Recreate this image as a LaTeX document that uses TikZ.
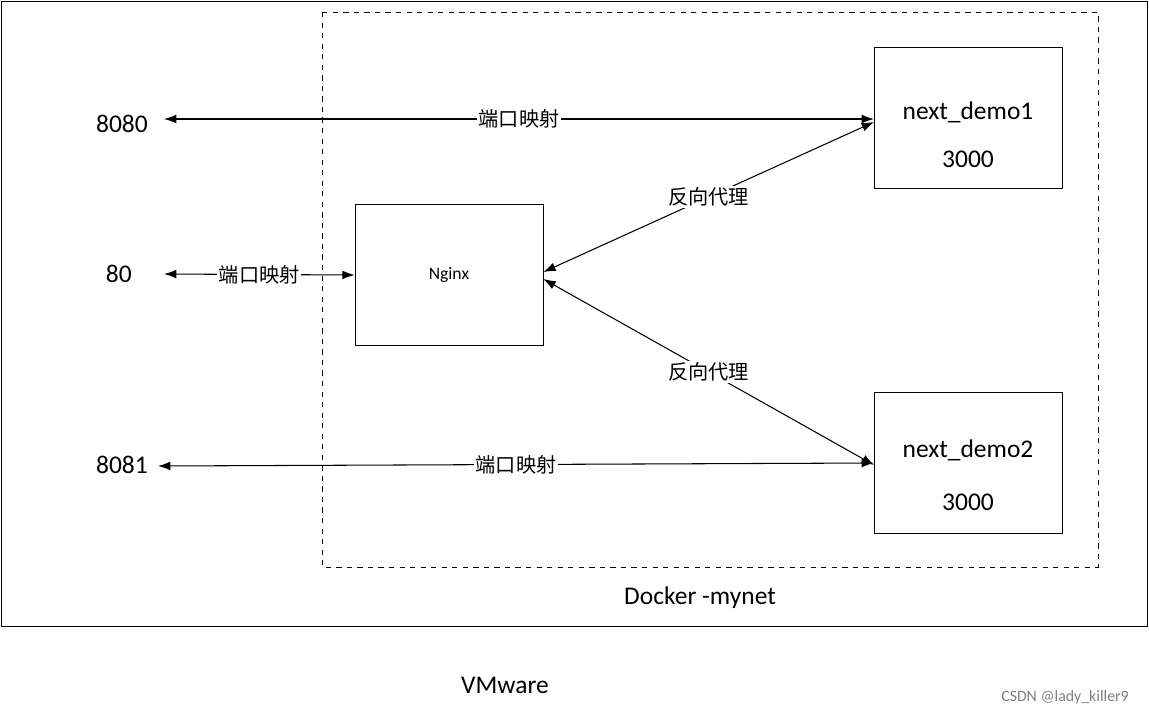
\documentclass[tikz,border=0pt]{standalone}
\usepackage{fontspec}
\setmainfont{Carlito}
\newfontfamily\cjk{Noto Sans CJK SC}
\usetikzlibrary{arrows.meta}
\begin{document}
\begin{tikzpicture}[x=0.02cm,y=-0.02cm]
    \tikzset{box/.style={draw,inner sep=0pt},
             lbl/.style={fill=white,inner sep=1pt,font=\cjk\fontsize{11.5}{13}\selectfont},
             link/.style={{Latex[length=7pt,width=5pt]}-{Latex[length=7pt,width=5pt]},semithick},
             big/.style={font=\fontsize{14.5}{17}\selectfont}}
    \useasboundingbox (0,0) rectangle (1149,718);
    \draw (1,1) rectangle (1147,626);
    \draw [dashed] (322,12) rectangle (1098,567);
    \node [box,minimum width=188*0.02cm,minimum height=141*0.02cm] (nginx) at (449,275) {\fontsize{10}{12}\selectfont Nginx};
    \node [box,minimum width=188*0.02cm,minimum height=141*0.02cm] (demo1) at (968,118) {};
    \node [big] at (968,112) {next\_demo1};
    \node [big] at (968,159) {3000};
    \node [box,minimum width=188*0.02cm,minimum height=141*0.02cm] (demo2) at (968,463) {};
    \node [big] at (968,450) {next\_demo2};
    \node [big] at (968,502) {3000};
    \node [big,anchor=east] (p8080) at (154,124) {8080};
    \node [big,anchor=east] (p80) at (138,274) {80};
    \node [big,anchor=east] (p8081) at (154,465) {8081};
    \coordinate (a1) at (874,119);
    \coordinate (a2) at (874,463);
    \draw [link] (p8080.east |- a1) ++(10,0) coordinate (b1) -- (a1) node [lbl,pos=0.5] {端口映射};
    \draw [link] (p80.east) ++(26,0) -- (nginx.west) node [lbl,pos=0.5] {端口映射};
    \draw [link] (p8081.east) ++(4,1) -- (a2) node [lbl,pos=0.5] {端口映射};
    \draw [link] (nginx.east) ++(0,-3) -- (874,122) node [lbl,pos=0.5] {反向代理};
    \draw [link] (nginx.east) ++(0,4) -- (874,465) node [lbl,pos=0.5] {反向代理};
    \node [big] at (700,598) {Docker -mynet};
    \node [big] at (505,685) {VMware};
    \node [text=gray,font=\fontsize{9}{11}\selectfont] at (1065,697) {CSDN @lady\_killer9};
\end{tikzpicture}
\end{document}
